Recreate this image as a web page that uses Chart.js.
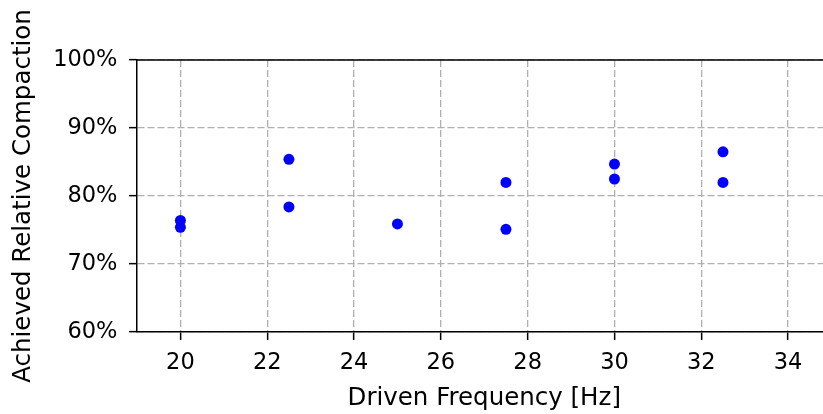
<!DOCTYPE html>
<html>
<head>
<meta charset="utf-8">
<script src="https://cdn.jsdelivr.net/npm/chart.js@4"></script>
<style>
  html, body { margin: 0; padding: 0; background: white; overflow: hidden; }
  /* the original figure is cropped just before the right spine */
  #wrap { width: 837px; height: 414px; }
</style>
</head>
<body>
<div id="wrap"><canvas id="compactionChart"></canvas></div>
<script>
// measured frequencies [Hz] and achieved relative compaction [%]
const frequencies = [20, 20, 22.5, 22.5, 25, 27.5, 27.5, 30, 30, 32.5, 32.5];
const compaction = [76.4, 75.4, 85.4, 78.4, 75.9, 82.0, 75.1, 84.7, 82.5, 86.5, 82.0];

const xTicks = [20, 22, 24, 26, 28, 30, 32, 34];
const yTicks = [60, 70, 80, 90, 100];

const points = frequencies.map((f, i) => ({ x: f, y: compaction[i] }));

Chart.defaults.font.family = "'DejaVu Sans', sans-serif";
Chart.defaults.color = "black";

// top spine (matplotlib box)
const topSpine = {
  id: "topSpine",
  afterDraw(chart) {
    const { ctx, chartArea } = chart;
    ctx.save();
    ctx.strokeStyle = "black";
    ctx.lineWidth = 1.5;
    ctx.beginPath();
    ctx.moveTo(chartArea.left, chartArea.top);
    ctx.lineTo(chartArea.right, chartArea.top);
    ctx.stroke();
    ctx.restore();
  },
};

const gridOpts = {
  color: "#b0b0b0",
  lineWidth: 1.3,
  tickColor: "black",
  tickLength: 8,
  tickWidth: 1.5,
};

new Chart(document.getElementById("compactionChart"), {
  type: "scatter",
  data: {
    datasets: [
      {
        label: "Compaction",
        data: points,
        backgroundColor: "#0000ff",
        borderWidth: 0,
        pointRadius: 5.5,
        pointHoverRadius: 5.5,
      },
    ],
  },
  options: {
    responsive: true,
    maintainAspectRatio: false,
    animation: false,
    layout: { padding: { top: 60, right: 0, left: 0, bottom: 0 } },
    plugins: {
      legend: { display: false },
      tooltip: { enabled: false },
    },
    scales: {
      x: {
        type: "linear",
        min: 19,
        max: 35,
        afterBuildTicks: (scale) => {
          scale.ticks = xTicks.map((v) => ({ value: v }));
        },
        afterFit: (scale) => {
          scale.height = 82;
        },
        ticks: {
          font: { size: 22.5 },
          padding: 10,
          maxRotation: 0,
        },
        grid: gridOpts,
        border: { color: "black", width: 1.5, dash: [7, 3] },
        title: {
          display: true,
          text: "Driven Frequency [Hz]",
          font: { size: 24.5 },
          padding: { top: 0, bottom: 1 },
        },
      },
      y: {
        type: "linear",
        min: 60,
        max: 100,
        afterBuildTicks: (scale) => {
          scale.ticks = yTicks.map((v) => ({ value: v }));
        },
        afterFit: (scale) => {
          scale.width = 137;
        },
        ticks: {
          font: { size: 22.5 },
          padding: 11.5,
          callback: (v) => v + "%",
        },
        grid: gridOpts,
        border: { color: "black", width: 1.5, dash: [7, 3] },
        title: {
          display: true,
          text: "Achieved Relative Compaction",
          font: { size: 24.5 },
          padding: { top: 9, bottom: 0 },
        },
      },
    },
  },
  plugins: [topSpine],
});
</script>
</body>
</html>
